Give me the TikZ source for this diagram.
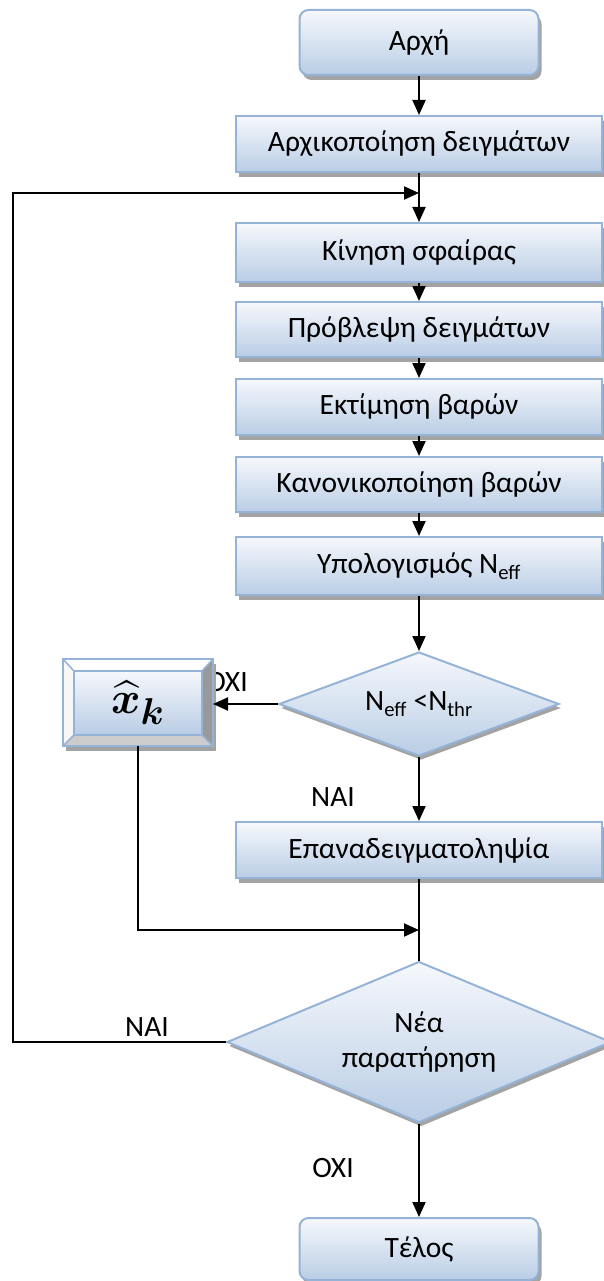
\documentclass[tikz,border=0pt]{standalone}
\usepackage{amsmath,bm}
\usepackage{fontspec}
\setmainfont{Carlito}
\usetikzlibrary{shapes.geometric,shadows,arrows.meta,calc}

\definecolor{boxline}{HTML}{95B3D7}
\definecolor{boxtop}{HTML}{F6F8FC}
\definecolor{boxbot}{HTML}{B9CDE5}
\definecolor{shadowgray}{HTML}{A3A3A3}

\begin{document}
\begin{tikzpicture}[x=1pt,y=-1pt,line width=2pt,
  >={Triangle[width=13pt,length=15pt]},
  every node/.style={font=\fontsize{29.5}{35}\selectfont},
  boxshadow/.style={drop shadow={shadow xshift=3pt,shadow yshift=-5pt,fill=shadowgray,opacity=1}},
  procbox/.style={rectangle,draw=boxline,line width=2pt,top color=boxtop,bottom color=boxbot,
    minimum width=366pt,minimum height=56pt,inner sep=0pt,boxshadow},
  termbox/.style={procbox,rounded corners=9pt,minimum width=239pt,minimum height=65pt},
  decision/.style={diamond,draw=boxline,line width=2pt,top color=boxtop,bottom color=boxbot,
    inner sep=0pt,align=center,
    drop shadow={shadow xshift=2pt,shadow yshift=-4pt,fill=shadowgray,opacity=1}},
  answer/.style={inner sep=0pt},
  flow/.style={->,black}]

\fill[white] (0,0) rectangle (604,1281);
\useasboundingbox (0,0) rectangle (604,1281);
\begin{scope}
\clip (0,0) rectangle (604,1281);

% main column of steps
\node[termbox] (start) at (419,42.5) {Αρχή};
\node[procbox] (init) at (419,144) {Αρχικοποίηση δειγμάτων};
\node[procbox,minimum height=59pt] (move) at (419,252.5) {Κίνηση σφαίρας};
\node[procbox,minimum height=55pt] (pred) at (419,329.5) {Πρόβλεψη δειγμάτων};
\node[procbox] (est) at (419,407) {Εκτίμηση βαρών};
\node[procbox,minimum height=55pt] (norm) at (419,484.5) {Κανονικοποίηση βαρών};
\node[procbox,minimum height=58pt] (neff) at (419,566) {Υπολογισμός N\textsubscript{eff}};
\node[decision,aspect=2.7,minimum width=280pt,minimum height=104pt] (test) at (419,704)
  {N\textsubscript{eff} <N\textsubscript{thr}};
\node[procbox] (resample) at (419,850) {Επαναδειγματοληψία};
\node[decision,aspect=2.4,minimum width=384pt,minimum height=161pt] (more) at (419,1042)
  {Νέα\\παρατήρηση};
\node[termbox,minimum height=62pt] (stop) at (419,1249) {Τέλος};

% label that sits partly under the estimate box
\node[answer] (no1) at (227,682) {ΟΧΙ};

% bevelled estimate box
\node[rectangle,fill=white,outer sep=0pt,minimum width=150pt,minimum height=87pt,
  boxshadow] (xhat) at (138,702.5) {};
\coordinate (xa) at ($(xhat.north west)+(11,12)$);
\coordinate (xb) at ($(xhat.north east)+(-11,12)$);
\coordinate (xc) at ($(xhat.south east)+(-11,-11)$);
\coordinate (xd) at ($(xhat.south west)+(11,-11)$);
\fill[white] (xhat.north west) -- (xhat.north east) -- (xb) -- (xa) -- cycle;
\fill[black!3] (xhat.north west) -- (xa) -- (xd) -- (xhat.south west) -- cycle;
\fill[black!40] (xhat.north east) -- (xhat.south east) -- (xc) -- (xb) -- cycle;
\fill[black!20] (xhat.south west) -- (xd) -- (xc) -- (xhat.south east) -- cycle;
\node[rectangle,draw=boxline,line width=2pt,top color=boxtop,bottom color=boxbot,
  minimum width=128pt,minimum height=64pt,inner sep=0pt] (xface) at (xhat.center)
  {\scalebox{1.8}{$\bm{\widehat{x}}_{\bm{k}}$}};
\draw[boxline] (xhat.north west) rectangle (xhat.south east);
\draw[boxline,line width=1.5pt] (xhat.north west) -- (xa) (xhat.north east) -- (xb)
  (xhat.south east) -- (xc) (xhat.south west) -- (xd);

% answer labels
\node[answer] (yes1) at (333,797) {ΝΑΙ};
\node[answer] (yes2) at (147,1027) {ΝΑΙ};
\node[answer] (no2) at (333,1168) {ΟΧΙ};

% junctions
\coordinate (j1) at (419,193);
\coordinate (j2) at (419,930);
\coordinate (loopc) at (13,193);
\coordinate (backc) at (138,930);

% connectors
\draw[flow] (start) -- (init);
\draw[flow] (init) -- (move);
\draw[flow] (move) -- (pred);
\draw[flow] (pred) -- (est);
\draw[flow] (est) -- (norm);
\draw[flow] (norm) -- (neff);
\draw[flow] (neff) -- (test);
\draw[flow] (test.west) -- (test.west -| xhat.east);
\draw[flow] (test) -- (resample);
\draw (resample) -- (more);
\draw[flow] (xhat.south) -- (backc) -- (j2);
\draw[flow] (more.west) -| (loopc) -- (j1);
\draw[flow] (more) -- (stop);
\end{scope}
\end{tikzpicture}
\end{document}
